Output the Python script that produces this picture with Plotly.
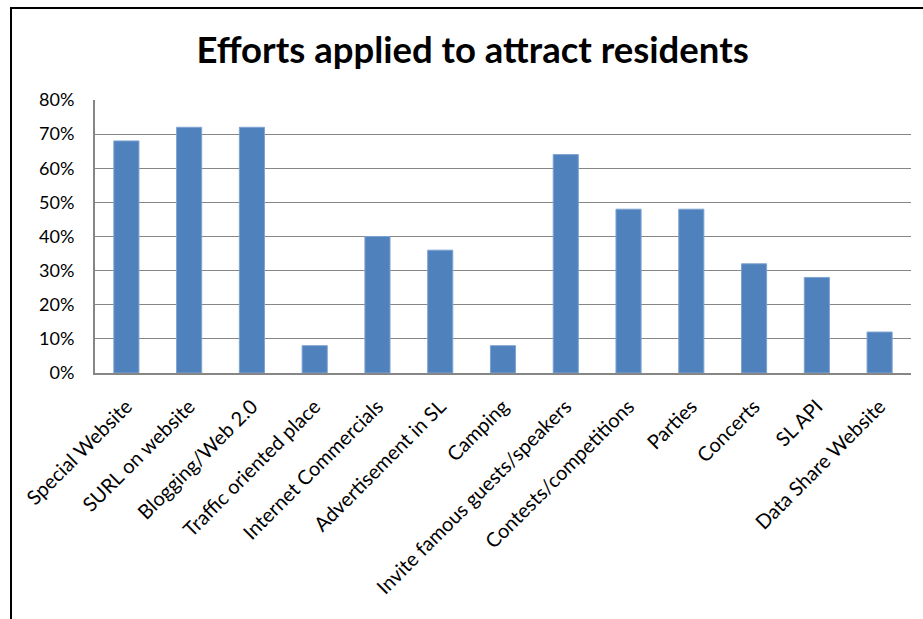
import plotly.graph_objects as go

categories = [
    "Special Website", "SURL on website", "Blogging/Web 2.0", "Traffic oriented place",
    "Internet Commercials", "Advertisement in SL", "Camping", "Invite famous guests/speakers",
    "Contests/competitions", "Parties", "Concerts", "SL API", "Data Share Website",
]
values = [0.68, 0.72, 0.72, 0.08, 0.40, 0.36, 0.08, 0.64, 0.48, 0.48, 0.32, 0.28, 0.12]
y_ticks = [0, 0.1, 0.2, 0.3, 0.4, 0.5, 0.6, 0.7, 0.8]
y_tick_labels = ["0%", "10%", "20%", "30%", "40%", "50%", "60%", "70%", "80%"]

W, H = 923, 619
L, R, T, B = 95, 12, 100, 246
pw, ph = W - L - R, H - T - B

fig = go.Figure(go.Bar(
    x=categories, y=values,
    marker=dict(color="#4F81BD", line=dict(color="#7EA3D0", width=1)),
))

fig.update_layout(
    width=W, height=H,
    margin=dict(l=L, r=R, t=T, b=B, pad=0),
    paper_bgcolor="white", plot_bgcolor="white",
    showlegend=False,
    bargap=0.6,
    font=dict(family="Lato", color="black", size=18),
    title=dict(
        text="<b>Efforts applied to attract residents</b>",
        font=dict(family="Lato", size=36.5, color="black"),
        x=0.512, xanchor="center", xref="container",
        y=1 - 50 / H, yanchor="middle", yref="container",
    ),
    xaxis=dict(
        tickangle=-45, showgrid=False, showline=True, linecolor="#868686", linewidth=2,
        ticks="", tickfont=dict(size=20, family="Lato"), ticklabelstandoff=12,
    ),
    yaxis=dict(
        range=[0, 0.8], tickvals=y_ticks, ticktext=y_tick_labels,
        showgrid=True, gridcolor="#868686", gridwidth=1,
        showline=True, linecolor="#868686", linewidth=2,
        ticks="", ticklabelstandoff=15, zeroline=False,
        tickfont=dict(size=18, family="Lato"),
    ),
    shapes=[dict(
        type="rect", xref="paper", yref="paper",
        x0=(11 - L) / pw, x1=(W + 20 - L) / pw,
        y0=-(H + 20 - T - ph) / ph, y1=(H - B - 8) / ph,
        line=dict(color="black", width=2), fillcolor="rgba(0,0,0,0)", layer="above",
    )],
)

fig.write_html("out.html")
